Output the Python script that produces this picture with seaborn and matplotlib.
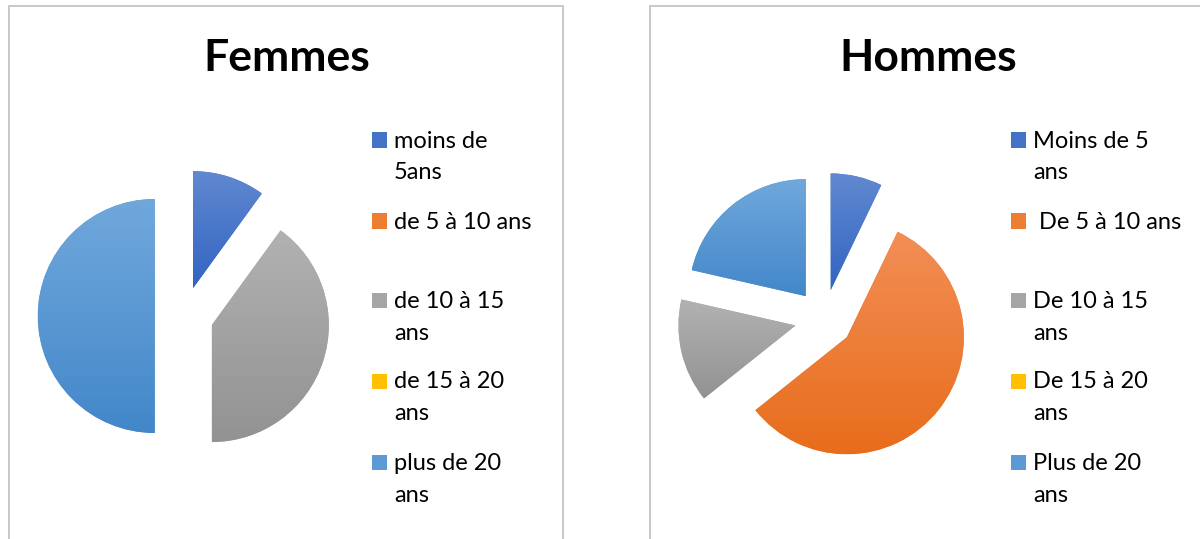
import numpy as np
import seaborn as sns
import matplotlib.pyplot as plt
from matplotlib.patches import Rectangle
from matplotlib.colors import LinearSegmentedColormap

# data
labels_femmes = ["moins de\n5ans", "de 5 à 10 ans", "de 10 à 15\nans",
                 "de 15 à 20\nans", "plus de 20\nans"]
femmes = [1, 0, 4, 0, 5]

labels_hommes = ["Moins de 5\nans", " De 5 à 10 ans", "De 10 à 15\nans",
                 "De 15 à 20\nans", "Plus de 20\nans"]
hommes = [1, 8, 2, 0, 3]

# office-like colours, (top, bottom) of the vertical gradient
base_colors = ["#4472C4", "#ED7D31", "#A5A5A5", "#FFC000", "#5B9BD5"]
grad_colors = [("#6189D0", "#3264C2"), ("#F28E57", "#E86D1B"),
               ("#B2B2B2", "#929292"), ("#FFCE33", "#F2B800"),
               ("#70A8DC", "#4387C9")]

sns.set_theme(style="white")
plt.rcParams['font.family'] = ['Lato', 'DejaVu Sans']

W, H = 1200, 539
fig = plt.figure(figsize=(W / 100, H / 100), dpi=100)


def fx(x):
    return x / W


def fy(y):
    return 1 - y / H


R = 117  # pie radius in px
LIM = 1.4


def draw_panel(left, right, title, title_x, center, values, labels, leg_x, text_x):
    # panel border (bottom runs off the picture)
    fig.patches.append(Rectangle((fx(left), fy(H + 10)), fx(right - left), (H + 4) / H,
                                 transform=fig.transFigure, fill=False,
                                 edgecolor="#BFBFBF", linewidth=1.2))
    fig.text(fx(title_x), fy(58), title, ha="center", va="center",
             fontsize=32, fontweight="bold", color="black")

    cx, cy = center
    size = 2 * LIM * R
    ax = fig.add_axes([fx(cx - size / 2), fy(cy + size / 2), size / W, size / H])
    wedges, _ = ax.pie(values, startangle=90, counterclock=False,
                       explode=[0.25] * len(values), colors=base_colors,
                       wedgeprops=dict(linewidth=0))
    for w, v, (top, bot) in zip(wedges, values, grad_colors):
        if v == 0:
            continue
        ext = w.get_path().get_extents()
        cmap = LinearSegmentedColormap.from_list("g", [bot, top])
        grad = np.linspace(0, 1, 256).reshape(-1, 1)
        im = ax.imshow(grad, extent=[ext.x0, ext.x1, ext.y0, ext.y1],
                       origin="lower", cmap=cmap, aspect="auto", zorder=3)
        im.set_clip_path(w)
    ax.set_xlim(-LIM, LIM)
    ax.set_ylim(-LIM, LIM)
    ax.set_aspect("equal")
    ax.axis("off")

    # legend, Excel style: marker on first line, fixed slot per entry
    ys = [140, 221, 300, 381, 462]
    for y, lab, col in zip(ys, labels, base_colors):
        fig.patches.append(Rectangle((fx(leg_x), fy(y + 7.5)), 15 / W, 15 / H,
                                     transform=fig.transFigure,
                                     facecolor=col, edgecolor="none"))
        for i, line in enumerate(lab.split("\n")):
            fig.text(fx(text_x), fy(y + 1 + 32 * i), line, ha="left", va="center",
                     fontsize=17, color="#000000")


draw_panel(9, 563, "Femmes", 287, (184, 316), femmes, labels_femmes, 372, 394)
draw_panel(650, 1210, "Hommes", 928, (824, 319), hommes, labels_hommes, 1011, 1033)

fig.savefig("out.png", dpi=100)
